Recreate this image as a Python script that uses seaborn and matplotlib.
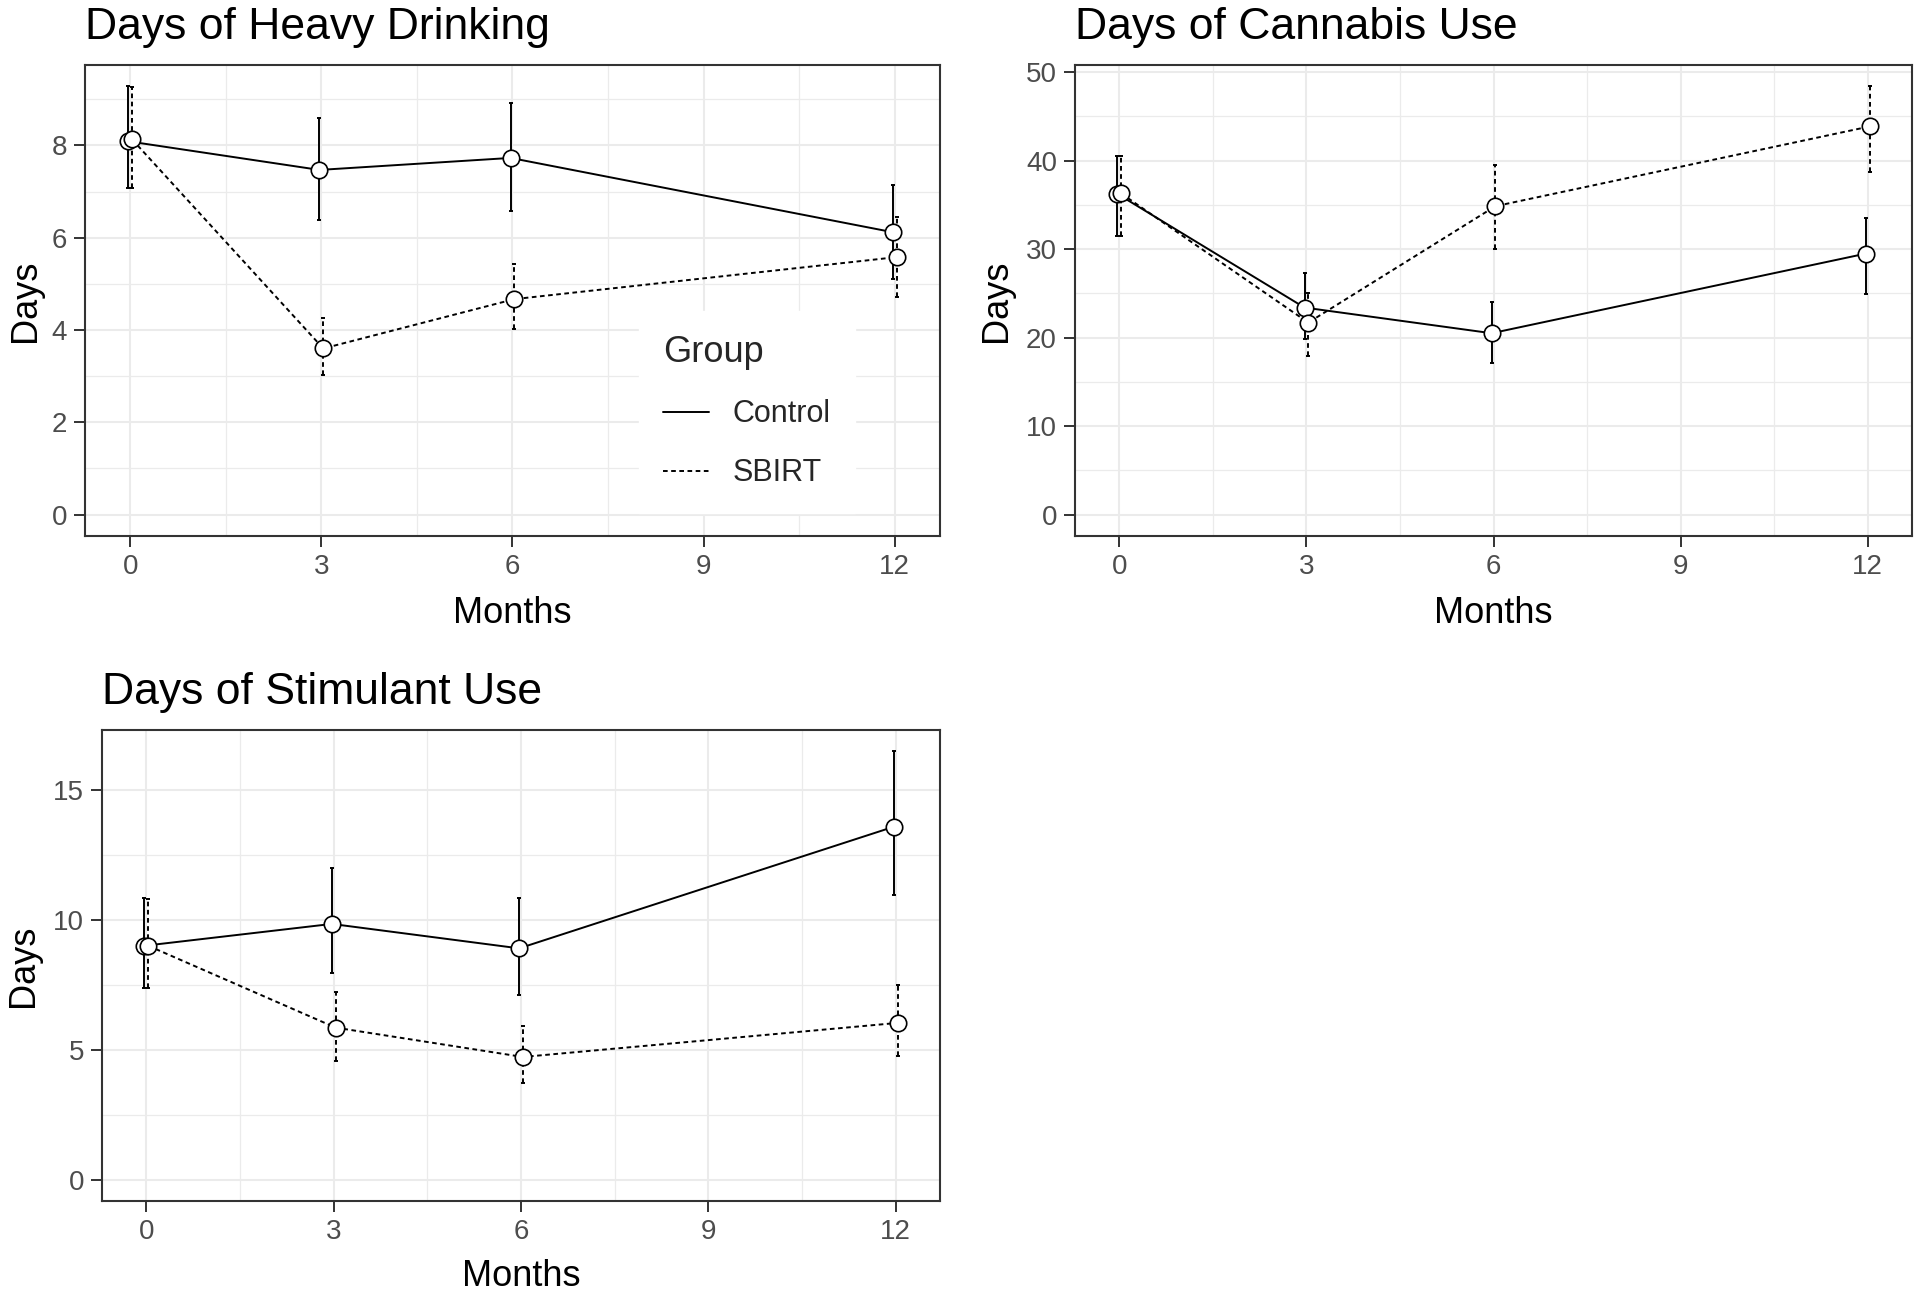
import numpy as np
import pandas as pd
import seaborn as sns
import matplotlib.pyplot as plt
from matplotlib.lines import Line2D

# values
months = [0, 3, 6, 12]
groups = ["Control", "SBIRT"]

# Days of Heavy Drinking
drink_control = [8.09, 7.47, 7.73, 6.12]
drink_control_lo = [7.07, 6.39, 6.57, 5.10]
drink_control_hi = [9.28, 8.60, 8.93, 7.15]
drink_sbirt = [8.13, 3.60, 4.67, 5.58]
drink_sbirt_lo = [7.07, 3.03, 4.02, 4.71]
drink_sbirt_hi = [9.26, 4.25, 5.44, 6.46]

# Days of Cannabis Use
cann_control = [36.25, 23.4, 20.5, 29.5]
cann_control_lo = [31.5, 19.8, 17.1, 24.9]
cann_control_hi = [40.5, 27.35, 24.0, 33.5]
cann_sbirt = [36.3, 21.7, 34.86, 43.87]
cann_sbirt_lo = [31.5, 17.95, 29.97, 38.7]
cann_sbirt_hi = [40.5, 25.1, 39.55, 48.4]

# Days of Stimulant Use
stim_control = [9.0, 9.84, 8.90, 13.58]
stim_control_lo = [7.38, 7.94, 7.11, 10.96]
stim_control_hi = [10.82, 11.98, 10.85, 16.48]
stim_sbirt = [9.0, 5.85, 4.72, 6.03]
stim_sbirt_lo = [7.38, 4.57, 3.70, 4.76]
stim_sbirt_hi = [10.8, 7.22, 5.91, 7.5]

sns.set_theme(style="white")
plt.rcParams["font.family"] = ["Liberation Sans", "DejaVu Sans"]

W, H = 1920, 1294
LW = 1.4
DASH = (2.4, 1.8)


def make_df(c, c_lo, c_hi, s, s_lo, s_hi):
    rows = []
    for g, m, lo, hi in [("Control", c, c_lo, c_hi), ("SBIRT", s, s_lo, s_hi)]:
        for i, mo in enumerate(months):
            rows.append({"Months": mo, "Group": g, "Days": m[i], "lo": lo[i], "hi": hi[i]})
    df = pd.DataFrame(rows)
    # position dodge
    df["x"] = df["Months"] + df["Group"].map({"Control": -0.03, "SBIRT": 0.03})
    return df


def rect(x0, y0, x1, y1):
    return [x0 / W, 1 - y1 / H, (x1 - x0) / W, (y1 - y0) / H]


def draw(ax, df, title, ystep, ylab_x, xlab_y):
    for g, ls in [("Control", "-"), ("SBIRT", (0, DASH))]:
        d = df[df["Group"] == g]
        eb = ax.errorbar(d["x"], d["Days"], yerr=[d["Days"] - d["lo"], d["hi"] - d["Days"]],
                         fmt="none", ecolor="black", elinewidth=LW, capsize=1.5,
                         capthick=LW, zorder=3)
        eb[2][0].set_linestyle(ls)
    sns.lineplot(data=df, x="x", y="Days", style="Group", style_order=groups,
                 dashes={"Control": "", "SBIRT": DASH}, color="black", lw=LW,
                 estimator=None, legend=False, ax=ax, zorder=4)
    sns.scatterplot(data=df, x="x", y="Days", color="white", edgecolor="black",
                    linewidth=1.2, s=140, legend=False, ax=ax, zorder=5)

    top = df["hi"].max()
    ymax = top * 1.05
    ax.set_ylim(-0.05 * top, ymax)
    ax.set_xlim(-0.71, 12.71)
    ax.set_xticks([0, 3, 6, 9, 12])
    ax.set_xticks([1.5, 4.5, 7.5, 10.5], minor=True)
    yt = np.arange(0, ymax, ystep)
    ym = yt + ystep / 2
    ax.set_yticks(yt)
    ax.set_yticks(ym[ym < ymax], minor=True)
    ax.set_yticklabels([f"{v:g}" for v in yt])
    ax.grid(which="major", color="#EBEBEB", lw=1.5)
    ax.grid(which="minor", color="#EBEBEB", lw=0.9)
    ax.set_axisbelow(True)
    ax.tick_params(which="major", length=8, width=1.4, color="#333333",
                   labelcolor="#4D4D4D", labelsize=20, pad=5, left=True, bottom=True)
    ax.tick_params(which="minor", length=0)
    for sp in ax.spines.values():
        sp.set_color("#333333")
        sp.set_linewidth(1.5)
    ax.set_title(title, loc="left", fontsize=32, pad=19, color="black")
    ax.set_xlabel("Months", fontsize=26, color="black")
    ax.set_ylabel("Days", fontsize=26, color="black")
    ax.yaxis.set_label_coords(ylab_x, 0.5)
    ax.xaxis.set_label_coords(0.5, xlab_y)


fig = plt.figure(figsize=(W / 100, H / 100), dpi=100)
ax1 = fig.add_axes(rect(85, 65, 940, 536))
ax2 = fig.add_axes(rect(1075, 65, 1912, 536))
ax3 = fig.add_axes(rect(102, 730, 940, 1201))

draw(ax1, make_df(drink_control, drink_control_lo, drink_control_hi,
                  drink_sbirt, drink_sbirt_lo, drink_sbirt_hi),
     "Days of Heavy Drinking", 2, -0.049, -0.127)
draw(ax2, make_df(cann_control, cann_control_lo, cann_control_hi,
                  cann_sbirt, cann_sbirt_lo, cann_sbirt_hi),
     "Days of Cannabis Use", 10, -0.0729, -0.127)
draw(ax3, make_df(stim_control, stim_control_lo, stim_control_hi,
                  stim_sbirt, stim_sbirt_lo, stim_sbirt_hi),
     "Days of Stimulant Use", 5, -0.0728, -0.124)

handles = [Line2D([], [], color="black", lw=LW, ls="-"),
           Line2D([], [], color="black", lw=LW, ls=(0, DASH))]
leg = ax1.legend(handles, groups, title="Group", loc="upper left",
                 bbox_to_anchor=(0.648, 0.478), borderaxespad=0, frameon=True,
                 fancybox=False, framealpha=1, facecolor="white", edgecolor="white",
                 fontsize=22, title_fontsize=26, handlelength=1.5, handletextpad=0.75,
                 labelspacing=0.95, borderpad=0.8, alignment="left")
leg.set_zorder(10)

fig.savefig("out.png", dpi=100)
